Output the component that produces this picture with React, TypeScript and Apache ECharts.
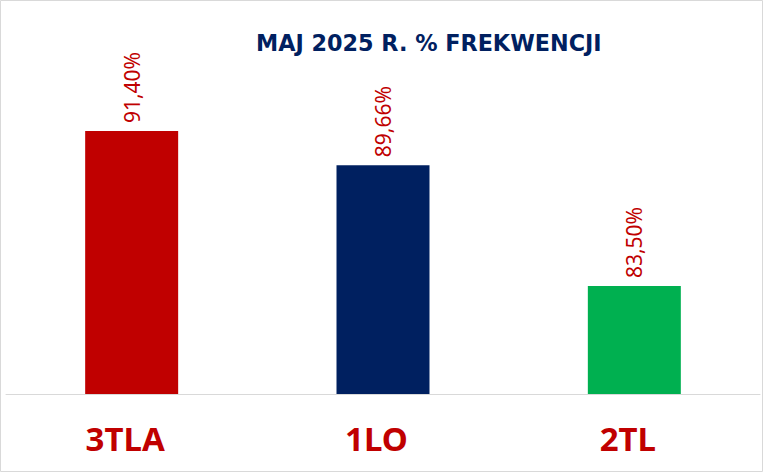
import React, { useEffect, useRef } from "react";
import * as echarts from "echarts";

const categories = ["3TLA", "1LO", "2TL"];
const values = [91.4, 89.66, 83.5];
const barColors = ["#C00000", "#002060", "#00B050"];
const titleText = "MAJ 2025 R. % FREKWENCJI";

export default function App() {
  const ref = useRef<HTMLDivElement>(null);
  useEffect(() => {
    document.body.style.margin = "0";
    const chart = echarts.init(ref.current!, null, { renderer: "svg" });
    chart.setOption({
      animation: false,
      backgroundColor: "#ffffff",
      title: {
        text: titleText,
        left: 251,
        top: 27,
        textStyle: {
          fontFamily: "DejaVu Sans",
          fontWeight: "bold",
          fontSize: 22.3,
          color: "#002060",
        },
      },
      graphic: [
        {
          type: "rect",
          shape: { x: 0.5, y: 0.5, width: 762, height: 471 },
          style: { fill: "none", stroke: "#d9d9d9", lineWidth: 1 },
          silent: true,
        },
      ],
      grid: { left: 6, right: 3, top: 119.3, bottom: 78, containLabel: false },
      xAxis: {
        type: "category",
        data: categories,
        axisLine: { show: true, lineStyle: { color: "#d9d9d9", width: 1 } },
        axisTick: { show: false },
        axisLabel: {
          color: "#C00000",
          fontFamily: "Noto Sans",
          fontWeight: "bold",
          fontSize: 33,
          margin: 28,
          padding: [0, 13, 0, 0],
        },
      },
      yAxis: {
        type: "value",
        min: 78,
        max: 92,
        show: false,
        splitLine: { show: false },
      },
      series: [
        {
          type: "bar",
          barWidth: "37%",
          data: values.map((v, i) => ({ value: v, itemStyle: { color: barColors[i] } })),
          label: {
            show: true,
            position: "top",
            rotate: 90,
            align: "left",
            verticalAlign: "middle",
            distance: 8,
            color: "#C00000",
            fontFamily: "Noto Sans",
            fontSize: 21,
            formatter: (p: any) => p.value.toFixed(2).replace(".", ",") + "%",
          },
        },
      ],
    });
    return () => chart.dispose();
  }, []);
  return <div ref={ref} style={{ width: 763, height: 472 }} />;
}
